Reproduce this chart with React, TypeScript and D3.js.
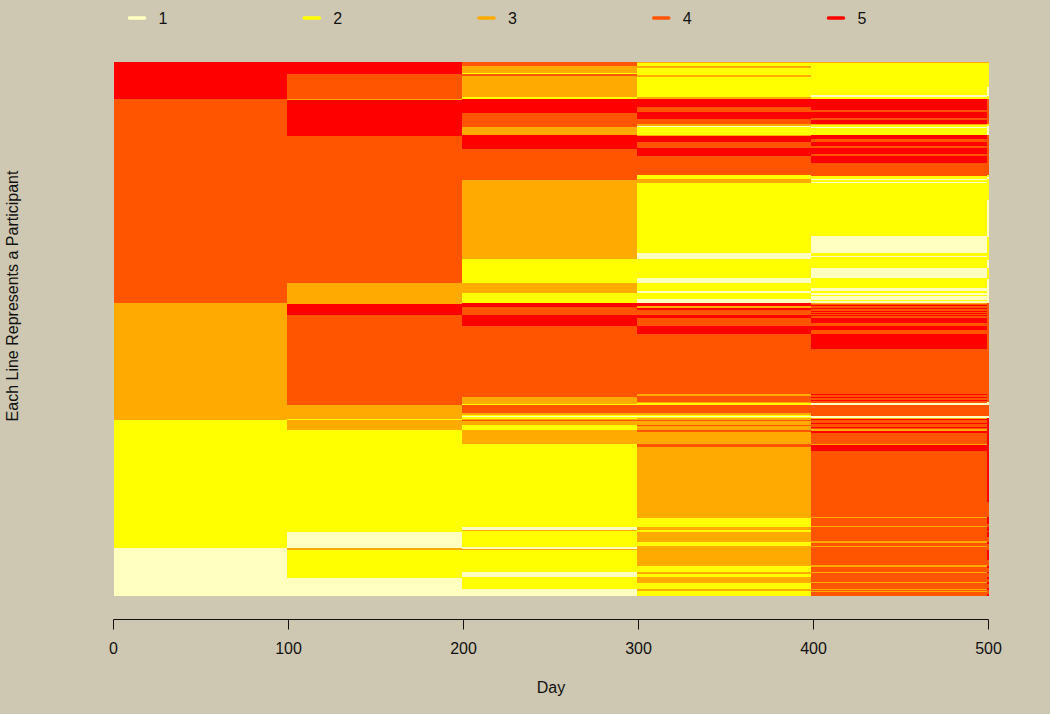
import React from "react";
import * as d3 from "d3";

// Ordered from the top of the plot. Each pair: [state, last participant row of the run]
const intervalBreaks = [0.4, 99.4, 199.3, 299, 398.6, 499.1, 500.3];
const xTicks = [0, 100, 200, 300, 400, 500];
const legendStates = [1, 2, 3, 4, 5];
const legendColors = ["#FFFFBF", "#FFFF00", "#FFAA00", "#FF5500", "#FF0000"];
const rowCount = 533.5;

const interval1: [number, number][] = [[5, 37], [4, 241], [3, 357.5], [2, 486], [1, 533.5]];
const interval2: [number, number][] = [
  [5, 12], [4, 36.5], [3, 37.5], [5, 73.5], [4, 221], [3, 241.5], [5, 253], [4, 343], [3, 356.3], [2, 357.5],
  [3, 368], [2, 469.5], [1, 486], [3, 487.5], [2, 515.5], [1, 533.5],
];
const interval3: [number, number][] = [
  [4, 4], [3, 11], [2, 12], [4, 14], [3, 35], [2, 36.5], [5, 50.5], [4, 64.5], [3, 73], [5, 86.5], [4, 117.5],
  [3, 197], [2, 220.5], [1, 221], [3, 231], [2, 241], [5, 245], [4, 253], [5, 263.5], [4, 334.5], [3, 342],
  [2, 343], [4, 351], [3, 352.5], [2, 354], [1, 355], [2, 356.3], [3, 358], [4, 359], [3, 362.7], [2, 368],
  [3, 382], [2, 465], [1, 468], [3, 469], [2, 485], [1, 486.5], [3, 488], [2, 510], [1, 515], [2, 526.7], [1, 533.5],
];
const interval4: [number, number][] = [
  [3, 1], [2, 4], [3, 6], [2, 13], [3, 15], [2, 35], [3, 36.5], [5, 45], [4, 50], [5, 57], [4, 62], [3, 63.5],
  [1, 65], [2, 73], [3, 73.5], [5, 80], [4, 86], [5, 94], [4, 113], [2, 117], [3, 121], [2, 191], [1, 197],
  [2, 216], [1, 221], [2, 229], [1, 230.7], [2, 236.7], [1, 241], [5, 243.7], [3, 245.3], [5, 248], [4, 253],
  [5, 255.3], [4, 263.7], [5, 271.7], [4, 332], [3, 334], [4, 339.7], [3, 340.2], [2, 342.5], [4, 351], [3, 352.5],
  [2, 354], [1, 355], [2, 356], [3, 357.5], [4, 359], [3, 362.5], [4, 363.5], [3, 368], [4, 369.7], [3, 382],
  [4, 384.3], [3, 456], [2, 465], [3, 467.5], [2, 469.5], [3, 480], [2, 484], [3, 504], [2, 510], [3, 511.5],
  [2, 515], [3, 520.7], [2, 527], [3, 528.7], [2, 533.5],
];
const interval5: [number, number][] = [
  [3, 1], [2, 33], [1, 35], [2, 36.5], [5, 48], [4, 50], [5, 56], [4, 57.5], [5, 61.5], [3, 62.5], [2, 64.7],
  [1, 66], [2, 73], [5, 77], [4, 79.7], [5, 84], [4, 86], [5, 92], [4, 94], [5, 101], [4, 114], [2, 117], [1, 118],
  [2, 119.5], [1, 121], [2, 174], [1, 191], [2, 194], [1, 195], [2, 206], [1, 216], [2, 218.5], [1, 219], [2, 226],
  [1, 229], [2, 231], [1, 233], [2, 233.7], [1, 235.5], [2, 236], [1, 237.5], [2, 238.5], [1, 241], [3, 241.7],
  [4, 242.3], [5, 243.3], [4, 245.7], [5, 246.6], [4, 248.6], [5, 249.4], [4, 251], [5, 251.8], [4, 253], [5, 254],
  [4, 255.5], [5, 260.5], [4, 263.7], [5, 267.7], [4, 271.7], [5, 287], [4, 332], [5, 333], [4, 334.7], [5, 335.7],
  [4, 337.5], [5, 338.5], [4, 340.7], [1, 343], [4, 353.7], [1, 355.6], [3, 356.5], [5, 357.5], [4, 360.5], [5, 361.5],
  [4, 364.7], [5, 365.5], [4, 367], [3, 368.3], [5, 371], [4, 382], [3, 383], [5, 388.7], [4, 455], [3, 456], [4, 464],
  [3, 465], [4, 479], [3, 481], [4, 483.5], [3, 485], [4, 503], [3, 504.7], [4, 509.7], [3, 511], [4, 520], [3, 521],
  [4, 526.5], [3, 527.5], [4, 528.5], [3, 530], [4, 533.5],
];
const interval6: [number, number][] = [
  [3, 1], [2, 25], [1, 34], [2, 36.5], [4, 62], [2, 64], [1, 73], [4, 113], [2, 115], [1, 117], [2, 138], [1, 175],
  [2, 198], [1, 206], [2, 217], [1, 241], [4, 340], [1, 343], [4, 354], [1, 356], [5, 439.7], [4, 455], [5, 462],
  [4, 465], [5, 469], [4, 470], [5, 475], [4, 479.7], [5, 482], [4, 488], [5, 497.3], [4, 503.7], [5, 505.7],
  [4, 509.7], [5, 510.7], [4, 514.7], [5, 517], [4, 519.7], [5, 521.3], [4, 526], [5, 528], [4, 531.3], [5, 533.5],
];
const intervals = [interval1, interval2, interval3, interval4, interval5, interval6];

const width = 1050;
const height = 714;
const bg = "#CEC8B2";
const ink = "#111";
const font = "'Liberation Sans', Arial, sans-serif";
const fontSize = 16;

export default function App() {
  const x = d3.scaleLinear().domain([0, 500]).range([113.5, 988.5]);
  const y = d3.scaleLinear().domain([0, rowCount]).range([62.3, 595.8]);
  const color = d3.scaleOrdinal<number, string>().domain(legendStates).range(legendColors);
  const legendX = d3.scalePoint<number>().domain(legendStates).range([128, 827]);

  return (
    <svg
      width={width}
      height={height}
      style={{ position: "absolute", left: 0, top: 0, display: "block" }}
      fontFamily={font}
      fontSize={fontSize}
    >
      <rect width={width} height={height} fill={bg} />
      <g shapeRendering="crispEdges">
        {intervals.map((runs, i) =>
          runs.map(([state, end], j) => {
            const start = j === 0 ? 0 : runs[j - 1][1];
            return (
              <rect
                key={`${i}-${j}`}
                x={x(intervalBreaks[i])}
                width={x(intervalBreaks[i + 1]) - x(intervalBreaks[i])}
                y={y(start)}
                height={y(end) - y(start)}
                fill={color(state)}
              />
            );
          })
        )}
      </g>
      <g>
        <line x1={x(0)} x2={x(500)} y1={619.5} y2={619.5} stroke={ink} strokeWidth={1} />
        {xTicks.map((t) => (
          <g key={t}>
            <line x1={x(t)} x2={x(t)} y1={619.5} y2={629.5} stroke={ink} strokeWidth={1} />
            <text x={x(t)} y={654} textAnchor="middle" fill={ink}>{t}</text>
          </g>
        ))}
      </g>
      <text x={551} y={692.5} textAnchor="middle" fill={ink}>Day</text>
      <text transform="translate(17.5,296) rotate(-90)" textAnchor="middle" fill={ink}>
        Each Line Represents a Participant
      </text>
      {legendStates.map((s) => {
        const lx = legendX(s) as number;
        return (
          <g key={s}>
            <line x1={lx + 1.5} x2={lx + 16.5} y1={18} y2={18} stroke={color(s)} strokeWidth={3.6} strokeLinecap="round" />
            <text x={lx + 30.5} y={24} fill={ink}>{s}</text>
          </g>
        );
      })}
    </svg>
  );
}
